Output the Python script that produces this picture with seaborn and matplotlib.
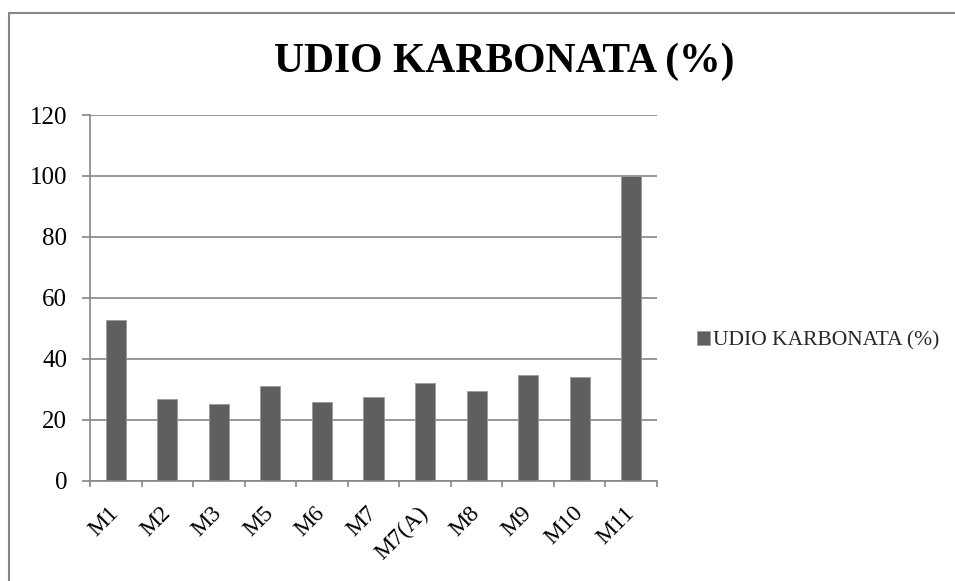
import matplotlib
matplotlib.use("Agg")
import matplotlib.pyplot as plt
import seaborn as sns
import pandas as pd
from matplotlib.lines import Line2D

categories = ["M1", "M2", "M3", "M5", "M6", "M7", "M7(A)", "M8", "M9", "M10", "M11"]
values = [52.6, 26.7, 25.3, 31.0, 25.8, 27.5, 31.9, 29.4, 34.6, 34.0, 100.0]
series_name = "UDIO KARBONATA (%)"
y_ticks = [0, 20, 40, 60, 80, 100, 120]

sns.set_theme(style="white")
plt.rcParams["font.family"] = ["Liberation Serif", "DejaVu Serif"]

df = pd.DataFrame({"cat": categories, "val": values})

W, H = 955, 581
fig = plt.figure(figsize=(W / 100, H / 100), dpi=100)
ax = fig.add_axes([90 / W, 1 - 480.7 / H, (657 - 90) / W, (480.7 - 115) / H])

grey = "#868686"
sns.barplot(data=df, x="cat", y="val", color="#5f5f5f", width=0.39, ax=ax,
            label=series_name, edgecolor="#9a9a9a", linewidth=0.6, saturation=1)

ax.set_ylim(0, 120)
ax.set_xlim(-0.5, len(categories) - 0.5)
ax.set_yticks(y_ticks)
ax.set_yticklabels([str(t) for t in y_ticks], fontsize=18, color="black")
ax.yaxis.grid(True, color=grey, linewidth=1.2)
ax.set_axisbelow(True)
ax.set_xlabel("")
ax.set_ylabel("")

for side in ["top", "right"]:
    ax.spines[side].set_visible(False)
for side in ["left", "bottom"]:
    ax.spines[side].set_color(grey)
    ax.spines[side].set_linewidth(1.2)

ax.set_xticks([i - 0.5 for i in range(len(categories) + 1)], minor=True)
ax.tick_params(axis="x", which="minor", length=4.5, width=1.2, color=grey, direction="out", bottom=True)
ax.set_xticks(range(len(categories)))
ax.set_xticklabels(categories, fontsize=17, rotation=45, ha="right", va="center",
                   rotation_mode="anchor", color="black")
ax.tick_params(axis="x", which="major", length=0, pad=21)
ax.tick_params(axis="y", length=5.5, width=1.2, color=grey, direction="out", left=True, pad=11)

fig.text(504 / W, 1 - 62 / H, series_name, ha="center", va="center",
         fontsize=30, fontweight="bold", color="black")

leg = ax.legend(loc="center left", bbox_to_anchor=(697 / W, 1 - 341 / H),
                bbox_transform=fig.transFigure, frameon=False, fontsize=15.5,
                handlelength=0.6, handleheight=0.6, handletextpad=0.15, borderpad=0,
                borderaxespad=0)

# chart border (left and top edges visible in the reference)
fig.add_artist(Line2D([8.5 / W, 8.5 / W], [0, 1 - 12.5 / H], transform=fig.transFigure,
                      color=grey, linewidth=1.5))
fig.add_artist(Line2D([8.5 / W, 1], [1 - 12.5 / H, 1 - 12.5 / H], transform=fig.transFigure,
                      color=grey, linewidth=1.5))

fig.savefig("out.png", dpi=100)
